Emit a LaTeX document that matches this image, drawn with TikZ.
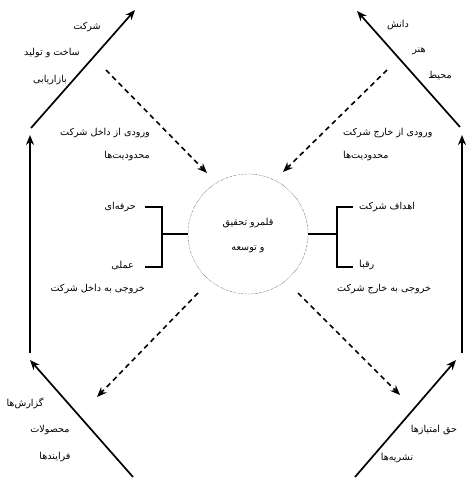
\documentclass[tikz,border=0pt]{standalone}
\usepackage{fontspec}
\newfontfamily\arabicfont[Script=Arabic]{DejaVu Sans}
\usetikzlibrary{arrows.meta,positioning,calc}
\TeXXeTstate=1
\newcommand{\fatxt}[1]{\beginR #1\endR}

\begin{document}
\begin{tikzpicture}[x=1pt, y=-1pt,
    every node/.style={font=\arabicfont\fontsize{9.6}{11}\selectfont, inner sep=1pt},
    flow/.style={-{Stealth[length=10pt,width=8pt]}, line width=1.7pt},
    hint/.style={-{Stealth[length=10pt,width=8pt]}, line width=1.6pt, dash pattern=on 5pt off 4pt},
    tie/.style={line width=1.4pt}]
    \useasboundingbox (0,0) rectangle (465,481);

    % centre
    \node[circle, draw, densely dotted, minimum size=120pt] (core) at (248,234) {};
    \node (core1) at (248,223) {\fatxt{قلمرو تحقیق}};
    \node (core2) at (248,249) {\fatxt{و توسعه}};

    % outer frame, left
    \coordinate (bl0) at (133,477); \coordinate (bl1) at (30,360);
    \coordinate (lv0) at (30,353); \coordinate (lv1) at (30,135);
    \coordinate (ld0) at (31,128); \coordinate (ld1) at (135,10);
    \draw[flow] (bl0) -- (bl1);
    \draw[flow] (lv0) -- (lv1);
    \draw[flow] (ld0) -- (ld1);

    % outer frame, right
    \coordinate (br0) at (355,477); \coordinate (br1) at (456,360);
    \coordinate (rv0) at (462,353); \coordinate (rv1) at (462,135);
    \coordinate (rd0) at (460,127); \coordinate (rd1) at (357,11);
    \draw[flow] (br0) -- (br1);
    \draw[flow] (rv0) -- (rv1);
    \draw[flow] (rd0) -- (rd1);

    % dashed links to and from the centre
    \coordinate (tl0) at (106,70);  \coordinate (tl1) at (207,173);
    \coordinate (tr0) at (387,70);  \coordinate (tr1) at (283,172);
    \coordinate (dl0) at (198,293); \coordinate (dl1) at (97,397);
    \coordinate (dr0) at (298,293); \coordinate (dr1) at (400,395);
    \draw[hint] (tl0) -- (tl1);
    \draw[hint] (tr0) -- (tr1);
    \draw[hint] (dl0) -- (dl1);
    \draw[hint] (dr0) -- (dr1);

    % brackets
    \coordinate (lb) at (162,234); \coordinate (rb) at (337,234);
    \draw[tie] (core.west) -- (lb);
    \draw[tie] (145,207) -- (162,207) -- (162,267) -- (145,267);
    \draw[tie] (core.east) -- (rb);
    \draw[tie] (353,207) -- (337,207) -- (337,267) -- (353,267);
    \node[anchor=east] (craft) at (137,207) {\fatxt{حرفه‌ای}};
    \node[anchor=east] (practice) at (135,265) {\fatxt{عملی}};
    \node[anchor=east] (outin) at (146,289) {\fatxt{خروجی به داخل شرکت}};
    \node[anchor=west] (goals) at (358,207) {\fatxt{اهداف شرکت}};
    \node[anchor=west] (rivals) at (358,265) {\fatxt{رقبا}};
    \node[anchor=west] (outout) at (336,289) {\fatxt{خروجی به خارج شرکت}};

    % inputs
    \node[anchor=east] (inin) at (151,133) {\fatxt{ورودی از داخل شرکت}};
    \node[anchor=east] (limin) at (151,156) {\fatxt{محدودیت‌ها}};
    \node[anchor=west] (inout) at (342,133) {\fatxt{ورودی از خارج شرکت}};
    \node[anchor=west] (limout) at (342,156) {\fatxt{محدودیت‌ها}};

    % corner labels
    \node (firm) at (87,27) {\fatxt{شرکت}};
    \node (make) at (52,53) {\fatxt{ساخت و تولید}};
    \node (market) at (50,80) {\fatxt{بازاریابی}};
    \node (know) at (398,25) {\fatxt{دانش}};
    \node (art) at (419,51) {\fatxt{هنر}};
    \node (env) at (440,76) {\fatxt{محیط}};
    \node (report) at (25,403) {\fatxt{گزارش‌ها}};
    \node (product) at (50,430) {\fatxt{محصولات}};
    \node (process) at (55,457) {\fatxt{فرایندها}};
    \node (royal) at (434,430) {\fatxt{حق امتیازها}};
    \node (journal) at (397,458) {\fatxt{نشریه‌ها}};
\end{tikzpicture}
\end{document}
